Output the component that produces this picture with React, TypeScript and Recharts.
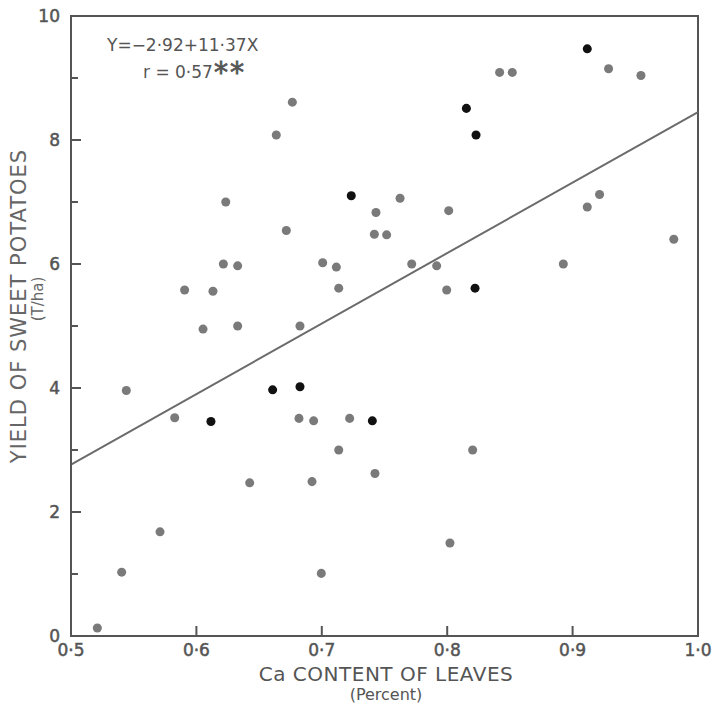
import React from 'react';
import {
  ScatterChart, Scatter, XAxis, YAxis, ReferenceLine, ReferenceArea,
} from 'recharts';

// Ca content of leaves (%) vs yield (T/ha); dark dots plotted separately
const grayPoints = [
  { x: 0.6765, y: 8.61 }, { x: 0.6637, y: 8.08 }, { x: 0.7432, y: 6.83 },
  { x: 0.6234, y: 7.0 }, { x: 0.6717, y: 6.54 }, { x: 0.7419, y: 6.48 },
  { x: 0.7517, y: 6.47 }, { x: 0.6215, y: 6.0 }, { x: 0.6329, y: 5.97 },
  { x: 0.7007, y: 6.02 }, { x: 0.7116, y: 5.95 }, { x: 0.7135, y: 5.61 },
  { x: 0.5906, y: 5.58 }, { x: 0.6132, y: 5.56 }, { x: 0.6329, y: 5.0 },
  { x: 0.6053, y: 4.95 }, { x: 0.6826, y: 5.0 }, { x: 0.8418, y: 9.09 },
  { x: 0.8519, y: 9.09 }, { x: 0.9287, y: 9.15 }, { x: 0.9545, y: 9.04 },
  { x: 0.7624, y: 7.06 }, { x: 0.8012, y: 6.86 }, { x: 0.9215, y: 7.12 },
  { x: 0.9117, y: 6.92 }, { x: 0.7717, y: 6.0 }, { x: 0.7916, y: 5.97 },
  { x: 0.8926, y: 6.0 }, { x: 0.7996, y: 5.58 }, { x: 0.9807, y: 6.4 },
  { x: 0.5441, y: 3.96 }, { x: 0.5827, y: 3.52 }, { x: 0.6818, y: 3.51 },
  { x: 0.6935, y: 3.47 }, { x: 0.7222, y: 3.51 }, { x: 0.7135, y: 3.0 },
  { x: 0.7424, y: 2.62 }, { x: 0.6425, y: 2.47 }, { x: 0.6922, y: 2.49 },
  { x: 0.571, y: 1.68 }, { x: 0.5404, y: 1.03 }, { x: 0.6996, y: 1.01 },
  { x: 0.521, y: 0.13 }, { x: 0.8203, y: 3.0 }, { x: 0.8022, y: 1.5 },
];

const blackPoints = [
  { x: 0.7235, y: 7.1 }, { x: 0.9117, y: 9.47 }, { x: 0.8153, y: 8.51 },
  { x: 0.823, y: 8.08 }, { x: 0.8222, y: 5.61 }, { x: 0.6608, y: 3.97 },
  { x: 0.6826, y: 4.02 }, { x: 0.6116, y: 3.46 }, { x: 0.7403, y: 3.47 },
];

const xTicks = [0.5, 0.6, 0.7, 0.8, 0.9, 1.0];
const yTicks = [0, 1, 2, 3, 4, 5, 6, 7, 8, 9, 10];

// regression Y = -2.92 + 11.37X
const intercept = -2.92;
const slope = 11.37;

const INK = '#555';
const FONT = '"DejaVu Sans", sans-serif';

const fmt = (v: number) => v.toFixed(1).replace('.', '·');

function XTick({ x, y, payload }: any) {
  const v = payload.value;
  const inner = v > 0.5 && v < 1.0;
  return (
    <g>
      {inner && <line x1={x} x2={x} y1={y} y2={y - 10} stroke={INK} strokeWidth={2} />}
      <text x={x} y={y + 20} textAnchor="middle" fontSize={17} fill={INK}
        stroke={INK} strokeWidth={0.5} fontFamily={FONT}>
        {fmt(v)}
      </text>
    </g>
  );
}

function YTick({ x, y, payload }: any) {
  const v = payload.value;
  const major = v % 2 === 0;
  return (
    <g>
      {v > 0 && v < 10 && (
        <line x1={x} x2={x + (major ? 10 : 7)} y1={y} y2={y} stroke={INK} strokeWidth={2} />
      )}
      {major && (
        <text x={x - 11} y={y + 6} textAnchor="end" fontSize={17} fill={INK}
          stroke={INK} strokeWidth={0.5} fontFamily={FONT}>
          {v}
        </text>
      )}
    </g>
  );
}

export default function App() {
  return (
    <div style={{ position: 'absolute', left: 0, top: 0, width: 712, height: 703, background: '#fff' }}>
      <ScatterChart width={712} height={703} margin={{ top: 16, right: 14, bottom: 0, left: 0 }}>
        <XAxis
          type="number" dataKey="x" domain={[0.5, 1.0]} ticks={xTicks} height={67}
          tickSize={0} tickMargin={0} tickLine={false} tick={<XTick />}
          axisLine={{ stroke: INK, strokeWidth: 2 }} allowDataOverflow
        />
        <YAxis
          type="number" dataKey="y" domain={[0, 10]} ticks={yTicks} width={71}
          tickSize={0} tickMargin={0} tickLine={false} tick={<YTick />}
          axisLine={{ stroke: INK, strokeWidth: 2 }} allowDataOverflow
        />
        <ReferenceArea x1={0.5} x2={1.0} y1={0} y2={10} fill="none" stroke={INK} strokeWidth={2} />
        <ReferenceLine
          segment={[
            { x: 0.5, y: intercept + slope * 0.5 },
            { x: 1.0, y: intercept + slope * 1.0 },
          ]}
          stroke="#6b6b6b" strokeWidth={2}
        />
        <Scatter data={grayPoints} fill="#7a7a7a" shape="circle" isAnimationActive={false} />
        <Scatter data={blackPoints} fill="#111" shape="circle" isAnimationActive={false} />
      </ScatterChart>
      <svg width={712} height={703} style={{ position: 'absolute', left: 0, top: 0, pointerEvents: 'none' }}>
        <g fill={INK} fontFamily={FONT}>
          <text x={107} y={51} fontSize={17}>Y=−2·92+11·37X</text>
          <text x={143} y={78} fontSize={17}>r = 0·57</text>
          <text x={214} y={82} fontSize={28} letterSpacing={2} stroke={INK} strokeWidth={0.8}>**</text>
          <text x={386} y={681} fontSize={20} textAnchor="middle" letterSpacing={0.5}>Ca CONTENT OF LEAVES</text>
          <text x={386} y={700} fontSize={16} textAnchor="middle">(Percent)</text>
          <text transform="translate(26,306) rotate(-90)" fontSize={21} textAnchor="middle"
            letterSpacing={1} fill="#666">
            YIELD OF SWEET POTATOES
          </text>
          <text transform="translate(43,299) rotate(-90)" fontSize={15} textAnchor="middle" fill="#666">(T/ha)</text>
        </g>
      </svg>
    </div>
  );
}
